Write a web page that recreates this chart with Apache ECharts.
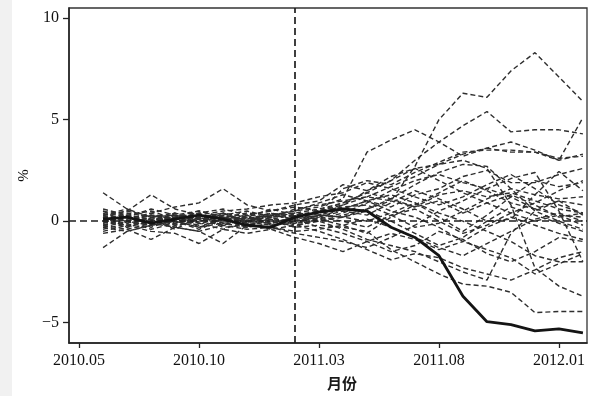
<!DOCTYPE html>
<html>
<head>
<meta charset="utf-8">
<script src="https://cdn.jsdelivr.net/npm/echarts@6/dist/echarts.min.js"></script>
<style>
  html, body { margin: 0; padding: 0; background: #ffffff; }
  #chart { width: 593px; height: 396px; }
</style>
</head>
<body>
<div id="chart"></div>
<script>
// ---- data ----
const months = ['2010.05','2010.06','2010.07','2010.08','2010.09','2010.10','2010.11','2010.12',
  '2011.01','2011.02','2011.03','2011.04','2011.05','2011.06','2011.07','2011.08','2011.09',
  '2011.10','2011.11','2011.12','2012.01','2012.02'];
const sampleMonths = months.slice(1);
const tickLabels = ['2010.05','2010.10','2011.03','2011.08','2012.01'];
const yTicks = [-5, 0, 5, 10];
const treatedMonth = '2011.02';

const treated   = [0.1, 0.2, -0.1, 0.1, 0.3, 0.1, -0.2, -0.3, 0.2, 0.45, 0.6, 0.5, -0.3, -0.8, -1.7, -3.7, -4.95, -5.1, -5.4, -5.3, -5.5];

const placebo01 = [0.3, 0.5, 0.2, 0.4, 0.1, 0.3, 0.5, 0.2, 0.6, 0.8, 1.0, 1.2, 1.0, 2.7, 5.0, 6.3, 6.1, 7.4, 8.3, 7.1, 5.9];
const placebo02 = [-0.2, 0.1, 0.3, 0.0, -0.3, 0.2, 0.4, 0.3, 0.5, 0.7, 1.1, 3.4, 4.0, 4.5, 3.9, 3.2, 3.6, 3.4, 3.4, 3.0, 3.3];
const placebo03 = [0.2, -0.3, 0.0, 0.3, 0.5, 0.2, -0.1, 0.3, 0.4, 0.6, 0.9, 1.4, 2.0, 3.0, 3.9, 4.7, 5.4, 4.4, 4.5, 4.5, 4.3];
const placebo04 = [0.5, 0.2, 0.6, 0.3, 0.1, 0.4, 0.2, 0.6, 0.3, 0.5, 0.8, 1.2, 1.7, 2.2, 2.8, 3.3, 3.6, 3.9, 3.5, 3.0, 5.1];
const placebo05 = [-0.4, -0.1, 0.2, -0.2, 0.0, 0.3, 0.1, -0.1, 0.2, 0.4, 1.6, 2.0, 1.8, 2.4, 2.9, 3.4, 3.5, 3.5, 3.4, 3.1, 3.2];
const placebo06 = [0.1, 0.4, 0.2, -0.2, 0.3, 0.0, 0.2, 0.1, 0.3, 0.2, 0.6, 1.0, 0.7, 1.3, 1.6, 2.2, 2.5, 1.9, 1.9, 2.3, 2.6];
const placebo07 = [0.0, -0.3, 0.3, 0.1, -0.2, 0.4, 0.0, 0.3, 0.1, 0.3, 0.8, 1.5, 2.0, 2.6, 2.8, 3.0, 2.6, 0.8, -2.3, -3.2, -3.7];
const placebo08 = [-0.3, 0.0, -0.4, -0.1, 0.2, -0.3, -0.2, 0.0, -0.3, -0.2, -0.3, -0.5, -1.4, -2.0, -2.6, -3.1, -3.2, -3.5, -4.5, -4.45, -4.45];
const placebo09 = [0.4, 0.0, -0.2, 0.2, -0.1, 0.1, -0.3, -0.1, 0.2, 0.0, -0.4, -0.9, -1.2, -1.5, -2.0, -2.5, -2.9, -0.6, 0.5, 1.0, 0.3];
const placebo10 = [-0.1, 0.3, 0.1, -0.3, 0.2, -0.2, 0.1, 0.4, 0.0, 0.2, 0.5, 0.3, 0.9, 1.5, 1.1, 0.6, 0.0, 0.1, 1.3, 2.45, 1.5];
const placebo11 = [0.2, -0.2, 0.0, 0.4, -0.3, 0.1, 0.3, -0.2, -0.1, 0.3, 0.6, 1.0, 1.3, 0.9, 0.4, 0.0, -0.5, -1.0, -1.7, -2.0, -2.0];
const placebo12 = [-0.2, 0.1, 0.4, 0.0, 0.2, -0.1, -0.3, 0.2, 0.3, 0.1, 0.4, 0.9, 1.5, 2.0, 2.3, 1.9, 1.6, 2.1, 2.4, 0.5, -2.0];
const placebo13 = [0.3, 0.6, 0.1, 0.2, 0.5, 0.2, 0.0, 0.4, 0.2, 0.5, 0.9, 1.4, 1.1, 1.8, 2.4, 2.8, 2.7, 1.6, 0.5, 0.0, -0.4];
const placebo14 = [-0.5, -0.2, 0.0, 0.2, -0.1, -0.4, 0.0, 0.2, -0.2, 0.0, 0.3, 0.6, 1.0, 0.7, 1.3, 1.5, 1.2, 1.4, 1.0, 0.6, 0.4];
const placebo15 = [0.6, 0.3, 0.5, 0.1, 0.4, 0.6, 0.3, 0.2, 0.4, 0.3, 0.2, 0.0, 0.4, 0.9, 0.2, -0.5, 0.3, 1.2, 2.0, 1.7, 1.9];
const placebo16 = [-0.6, -0.4, -0.1, -0.3, -0.5, -0.2, -0.4, -0.3, -0.6, -0.8, -1.0, -1.3, -0.8, -0.2, 0.5, 1.0, 1.6, 1.2, 0.6, 0.3, -0.2];
const placebo17 = [0.0, 0.2, -0.2, 0.3, 0.1, -0.2, 0.2, 0.0, 0.1, -0.3, -0.6, -1.0, -1.5, -1.2, -0.5, -0.9, -1.6, -2.0, -1.5, -0.8, -1.0];
const placebo18 = [-0.3, -0.5, -0.2, 0.0, -0.4, 0.1, -0.1, -0.4, -0.2, -0.5, -0.9, -1.4, -1.9, -1.6, -1.8, -2.3, -2.6, -2.9, -2.4, -1.8, -1.5];
const placebo19 = [0.2, 0.0, 0.3, -0.1, 0.1, 0.2, -0.2, 0.1, -0.1, 0.0, 0.2, 0.5, 0.0, -0.6, -1.2, -0.8, 0.0, 0.7, 0.3, -0.1, -0.5];
const placebo20 = [-0.1, 0.2, -0.3, 0.1, 0.3, 0.0, 0.2, -0.1, 0.0, 0.1, -0.2, -0.6, 0.2, 0.8, 1.4, 2.0, 1.5, 0.9, 0.6, 1.0, 0.8];
const placebo21 = [1.4, 0.6, 0.2, 0.3, 0.0, 0.2, 0.1, 0.3, 0.5, 0.9, 1.3, 1.0, 0.5, 0.2, -0.3, -1.0, -1.4, -1.8, -2.6, -2.1, -1.6];
const placebo22 = [-1.3, -0.5, -0.2, 0.0, -0.3, -0.1, 0.0, -0.2, 0.0, 0.3, 0.2, 0.6, 1.1, 0.7, 1.0, 0.4, 0.9, 1.3, 0.8, 0.2, 0.4];
const placebo23 = [0.2, 0.5, 1.3, 0.6, 0.3, 0.5, 0.6, 0.8, 0.9, 1.2, 1.4, 1.9, 1.6, 1.2, 0.8, 1.2, 1.8, 2.3, 1.6, 0.8, 0.4];
const placebo24 = [-0.2, -0.4, -0.9, -0.3, -0.5, -1.1, -0.2, -0.3, -0.5, -0.4, -0.2, 0.1, -0.3, -0.8, -1.3, -1.7, -1.1, -0.5, 0.1, 0.4, 0.0];
const placebo25 = [0.3, 0.0, 0.4, 0.7, 0.9, 1.6, 0.8, 0.5, 0.7, 0.5, 0.7, 0.8, 0.3, -0.3, -0.1, 0.5, 1.1, 1.6, 1.3, 1.1, 1.2];
const placebo26 = [0.0, -0.2, -0.5, -0.6, -1.1, -0.4, -0.6, -0.4, -0.8, -1.1, -1.5, -1.0, -0.6, -0.9, -1.4, -1.0, -0.3, 0.2, -0.2, -0.6, -0.9];
const placebo27 = [0.1, 0.3, 0.0, 0.2, 0.4, -0.1, 0.3, 0.5, 0.8, 1.0, 1.8, 1.5, 2.2, 2.6, 2.0, 1.4, 0.9, 0.4, 0.9, 1.5, 2.0];
const placebo28 = [0.5, -0.1, 0.1, -0.4, 0.2, 0.4, -0.1, 0.1, -0.3, 0.2, 0.0, -0.3, 0.3, 0.6, 0.0, -0.6, -0.2, 0.4, 0.0, 0.3, 0.2];

const placebos = [placebo01, placebo02, placebo03, placebo04, placebo05, placebo06, placebo07,
  placebo08, placebo09, placebo10, placebo11, placebo12, placebo13, placebo14, placebo15,
  placebo16, placebo17, placebo18, placebo19, placebo20, placebo21, placebo22, placebo23,
  placebo24, placebo25, placebo26, placebo27, placebo28];

// ---- build ----
const toPoints = vals => vals.map((v, i) => [months.indexOf(sampleMonths[i]), v]);
const serif = "'Liberation Serif', 'DejaVu Serif', serif";

const series = placebos.map((vals, k) => ({
  type: 'line',
  name: 'placebo' + (k + 1),
  data: toPoints(vals),
  symbol: 'none',
  silent: true,
  z: 2,
  lineStyle: { color: '#2e2e2e', width: 1.4, type: [5, 3] }
}));
series.push({
  type: 'line',
  name: 'treated',
  data: toPoints(treated),
  symbol: 'none',
  silent: true,
  z: 5,
  lineStyle: { color: '#141414', width: 2.8 },
  markLine: {
    silent: true,
    symbol: 'none',
    label: { show: false },
    lineStyle: { color: '#1e1e1e', width: 1.7, type: [7, 4] },
    data: [
      { xAxis: months.indexOf(treatedMonth) },
      { yAxis: 0 }
    ]
  }
});

const chart = echarts.init(document.getElementById('chart'), null, { renderer: 'canvas' });
chart.setOption({
  animation: false,
  backgroundColor: '#ffffff',
  graphic: [{ type: 'rect', shape: { x: 0, y: 0, width: 12, height: 396 }, style: { fill: '#f1f1f1' }, silent: true }],
  grid: { left: 69, right: 6, top: 8, bottom: 52, show: true, borderColor: '#333', borderWidth: 1.3, backgroundColor: 'transparent' },
  xAxis: {
    type: 'value',
    min: -0.42,
    max: 21.17,
    name: '月份',
    nameLocation: 'middle',
    nameGap: 33,
    nameTextStyle: { fontFamily: "'Noto Sans CJK SC', sans-serif", fontSize: 15, fontWeight: 'bold', color: '#1a1a1a', padding: [0, 0, 0, 28] },
    splitLine: { show: false },
    axisLine: { show: true, onZero: false, lineStyle: { color: '#222', width: 1.5 } },
    axisTick: { show: true, length: 5, customValues: tickLabels.map(t => months.indexOf(t)), lineStyle: { color: '#222', width: 1.3 } },
    axisLabel: {
      customValues: tickLabels.map(t => months.indexOf(t)),
      formatter: v => months[Math.round(v)],
      fontFamily: serif, fontSize: 16, color: '#111', margin: 10
    }
  },
  yAxis: {
    type: 'value',
    min: -6,
    max: 10.5,
    name: '%',
    nameLocation: 'middle',
    nameGap: 34,
    nameRotate: 90,
    nameTextStyle: { fontFamily: serif, fontSize: 15, color: '#111' },
    splitLine: { show: false },
    axisLine: { show: true, onZero: false, lineStyle: { color: '#222', width: 1.5 } },
    axisTick: { show: true, length: 6, customValues: yTicks, lineStyle: { color: '#222', width: 1.3 } },
    axisLabel: {
      customValues: yTicks,
      formatter: v => (v < 0 ? '\u2212' + Math.abs(v) : String(v)),
      fontFamily: serif, fontSize: 16, color: '#111', margin: 10
    }
  },
  series: series
});
</script>
</body>
</html>
